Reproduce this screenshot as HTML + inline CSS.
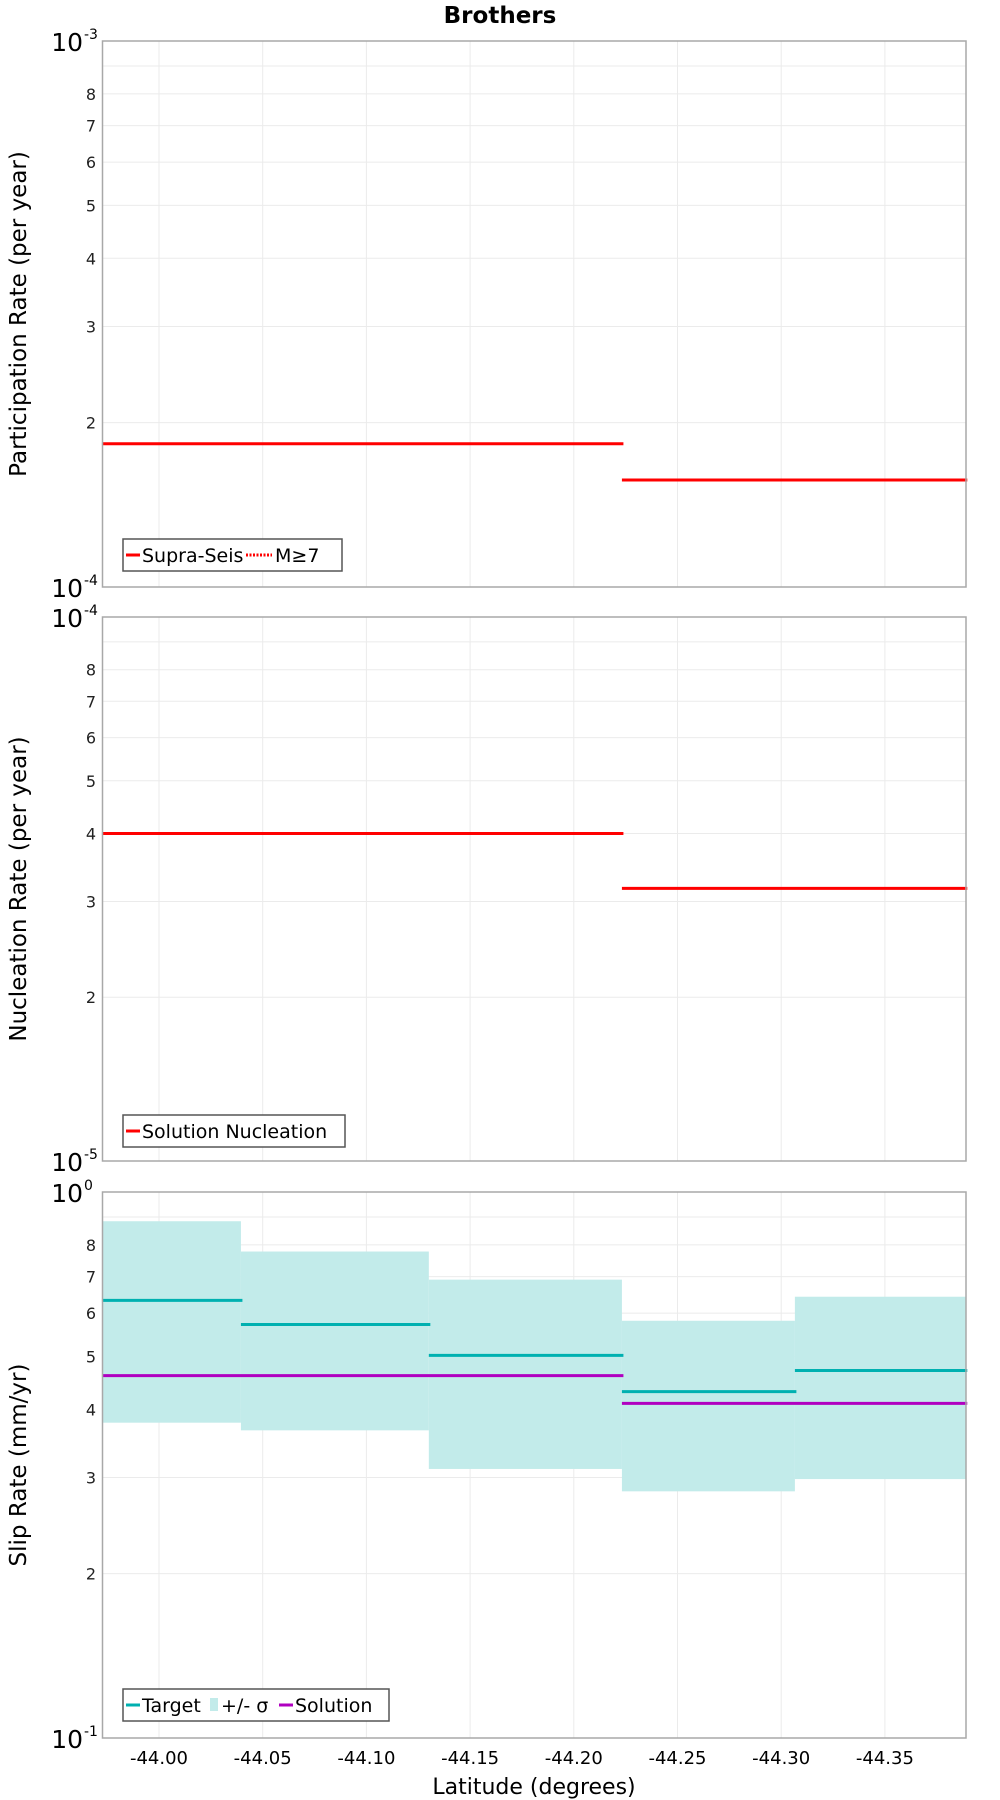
<!DOCTYPE html>
<html><head><meta charset="utf-8"><style>
html,body{margin:0;padding:0;background:#fff;}
svg{display:block;font-family:"DejaVu Sans","Liberation Sans",sans-serif;}
</style></head><body>
<svg id="chart" width="1000" height="1800" viewBox="0 0 1000 1800"></svg>
<script>
// Latitude bin boundaries (degrees, absolute value shown as negative)
const binEdges = [43.9725, 44.0395, 44.1301, 44.2232, 44.3066, 44.389];
const xTicks = [44.00, 44.05, 44.10, 44.15, 44.20, 44.25, 44.30, 44.35];
const xTickLabels = ["-44.00","-44.05","-44.10","-44.15","-44.20","-44.25","-44.30","-44.35"];
// Panel 1: participation
const partEdges = [43.9725, 44.2232, 44.389];
const partSupra = [1.83e-4, 1.57e-4];
// Panel 2: nucleation
const nuclEdges = [43.9725, 44.2232, 44.389];
const nuclSolution = [4.0e-5, 3.17e-5];
// Panel 3: slip rate
const slipTarget = [0.633, 0.572, 0.502, 0.431, 0.471];
const slipUpper = [0.884, 0.778, 0.691, 0.581, 0.643];
const slipLower = [0.378, 0.366, 0.311, 0.283, 0.298];
const solEdges = [43.9725, 44.2232, 44.389];
const slipSolution = [0.461, 0.410];
const minorTicks = [2,3,4,5,6,7,8,9];

const svg = document.getElementById('chart');
const NS = 'http://www.w3.org/2000/svg';
function mk(tag, attrs, parent){
  const e = document.createElementNS(NS, tag);
  for (const k in attrs) e.setAttribute(k, attrs[k]);
  (parent||svg).appendChild(e);
  return e;
}
const L = 102.5, R = 966;
const X0 = 159, XPER = 103.7/0.05;
function xs(lat){ return X0 + (lat - 44.0) * XPER; }

const tt = mk('text',{x:500,y:23,'text-anchor':'middle','font-size':23,'font-weight':'bold',fill:'#000'});


tt.textContent = 'Brothers';

function panel(name, top, bottom, decMin, yTitle){
  const g = mk('g',{});
  
  
  const ys = v => bottom - (Math.log10(v) - decMin) * (bottom - top);
  for (const t of xTicks){
    const l = mk('line',{x1:xs(t),x2:xs(t),y1:top,y2:bottom,stroke:'#ebebeb','stroke-width':1},g);
    
    
  }
  for (const m of minorTicks){
    const y = ys(m * Math.pow(10, decMin));
    const l = mk('line',{x1:L,x2:R,y1:y,y2:y,stroke:'#ebebeb','stroke-width':1},g);
    
    
    if (m !== 9){
      const tx = mk('text',{x:96,y:y+6,'text-anchor':'end','font-size':16,fill:'#222'},g);
      
      
      tx.textContent = m;
    }
  }
  [[decMin, bottom],[decMin+1, top]].forEach(([d, y])=>{
    const tx = mk('text',{x:83,y:y+10,'text-anchor':'end','font-size':25,fill:'#000'},g);
    
    
    tx.textContent = '10';
    const sp = mk('text',{x:84,y:y-2,'text-anchor':'start','font-size':14,fill:'#000'},g);
    
    
    sp.textContent = String(d);
  });
  const yt = mk('text',{x:0,y:0,'text-anchor':'middle','font-size':23,fill:'#000',
    transform:`translate(26,${(top+bottom)/2}) rotate(-90)`},g);
  
  
  yt.textContent = yTitle;
  return {g, ys, top, bottom};
}
function frame(p){
  const r = mk('rect',{x:L,y:p.top,width:R-L,height:p.bottom-p.top,fill:'none',stroke:'#a8a8a8','stroke-width':1.5},p.g);
  
  
}
function steps(p, edges, vals, color, name, w){
  vals.forEach((v,i)=>{
    const y = p.ys(v);
    const l = mk('line',{x1:xs(edges[i]),x2:xs(edges[i+1])+1.5,y1:y,y2:y,stroke:color,'stroke-width':w||3},p.g);
    
    
  });
}
function legend(p, x, y, w, items){
  const lg = mk('g',{},p.g);
  
  
  mk('rect',{x:x,y:y,width:w,height:32,fill:'#fff',stroke:'#555','stroke-width':1.5},lg);
  let cx = x + 3;
  items.forEach(it=>{
    const e = mk('g',{},lg);
    
    
    if (it.type==='line') mk('line',{x1:cx,x2:cx+14,y1:y+16,y2:y+16,stroke:it.color,'stroke-width':3},e);
    else if (it.type==='dot') mk('line',{x1:cx,x2:cx+26,y1:y+16,y2:y+16,stroke:it.color,'stroke-width':3,'stroke-dasharray':'2,1.5'},e);
    else mk('rect',{x:cx,y:y+9,width:8,height:13,fill:it.color},e);
    cx += (it.type==='dot'?29:(it.type==='box'?11:16));
    const t = mk('text',{x:cx,y:y+23,'font-size':19,fill:'#000'},e);
    t.textContent = it.label;
    cx += it.w;
  });
}

const p1 = panel('participation', 41, 587, -4, 'Participation Rate (per year)');
steps(p1, partEdges, partSupra, '#ff0000', 'supra-seis-line');
frame(p1);
legend(p1, 123, 539, 219, [{type:'line',color:'#f00',label:'Supra-Seis',w:104},{type:'dot',color:'#f00',label:'M≥7',w:40}]);

const p2 = panel('nucleation', 617, 1161, -5, 'Nucleation Rate (per year)');
steps(p2, nuclEdges, nuclSolution, '#ff0000', 'solution-nucleation-line');
frame(p2);
legend(p2, 123, 1115, 222, [{type:'line',color:'#f00',label:'Solution Nucleation',w:190}]);

const p3 = panel('slip-rate', 1192, 1738, -1, 'Slip Rate (mm/yr)');
slipUpper.forEach((u,i)=>{
  const y1 = p3.ys(u), y2 = p3.ys(slipLower[i]);
  const r = mk('rect',{x:xs(binEdges[i]),y:y1,width:xs(binEdges[i+1])-xs(binEdges[i]),height:y2-y1,fill:'#c2ebea'},p3.g);
  
  
});
steps(p3, binEdges, slipTarget, '#00b0b0', 'target-line');
steps(p3, solEdges, slipSolution, '#b000c0', 'solution-line');
frame(p3);
legend(p3, 123, 1689, 266, [{type:'line',color:'#00b0b0',label:'Target',w:68},{type:'box',color:'#c2ebea',label:'+/- σ',w:58},{type:'line',color:'#b000c0',label:'Solution',w:90}]);

xTicks.forEach((t,i)=>{
  const tx = mk('text',{x:xs(t),y:1764,'text-anchor':'middle','font-size':18,fill:'#000'});
  
  
  tx.textContent = xTickLabels[i];
});
const xt = mk('text',{x:534,y:1794,'text-anchor':'middle','font-size':22,fill:'#000'});


xt.textContent = 'Latitude (degrees)';
</script>
</body></html>
